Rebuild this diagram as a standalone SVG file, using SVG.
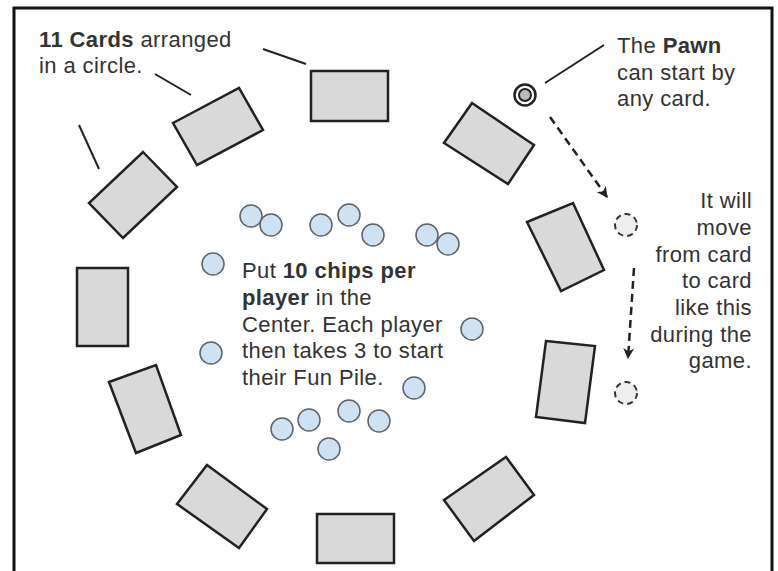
<svg xmlns="http://www.w3.org/2000/svg" width="778" height="571" viewBox="0 0 778 571">
  <defs>
    <marker id="arrow" viewBox="0 0 10 10" refX="9" refY="5" markerWidth="4.4" markerHeight="4.4" orient="auto" markerUnits="strokeWidth">
      <path d="M0,0 L10,5 L0,10 L3,5 z" fill="#222"/>
    </marker>
    <style>
      .card { fill: #d9d9d9; stroke: #222; stroke-width: 2.5; stroke-linejoin: miter; }
      .chip { fill: #cfe2f3; stroke: #5f6468; stroke-width: 1.5; }
      .lead { stroke: #222; stroke-width: 2; fill: none; }
      .move { stroke: #222; stroke-width: 2.5; stroke-dasharray: 8 5; fill: none; }
      .ghost { fill: #eeeeee; stroke: #333; stroke-width: 2; stroke-dasharray: 6 4; }
      .txt { font-family: "Liberation Sans", Arial, sans-serif; font-size: 22px; fill: #333; letter-spacing: 0.4px; }
      .b { font-weight: bold; }
    </style>
  </defs>

  <rect x="0" y="0" width="778" height="571" fill="#ffffff"/>
  <!-- page frame (runs off the bottom edge) -->
  <rect x="14" y="8" width="758" height="620" fill="none" stroke="#111" stroke-width="3"/>

  <!-- the eleven cards around the table -->
  <g id="card-top"><polygon class="card" points="311,71 388,71 388,121 311,121"/></g>
  <g id="card-top-left"><polygon class="card" points="173,123 239,88 263,130 197,165"/></g>
  <g id="card-left-upper"><polygon class="card" points="143,152 177,187 123,238 89,203"/></g>
  <g id="card-left"><polygon class="card" points="77,268 128,268 128,346 77,346"/></g>
  <g id="card-left-lower"><polygon class="card" points="109,382 156,365 181,435 136,453"/></g>
  <g id="card-bottom-left"><polygon class="card" points="207,465 267,509 239,548 177,504"/></g>
  <g id="card-bottom"><polygon class="card" points="317,514 394,514 394,563 317,563"/></g>
  <g id="card-bottom-right"><polygon class="card" points="506,457 534,495 474,541 444,500"/></g>
  <g id="card-right-lower"><polygon class="card" points="546,341 595,346 585,423 536,417"/></g>
  <g id="card-right"><polygon class="card" points="573,203 604,270 561,291 527,222"/></g>
  <g id="card-top-right"><polygon class="card" points="472,103 534,145 508,184 444,143"/></g>

  <!-- chips in the centre pile -->
  <g id="chips">
    <circle class="chip" cx="251" cy="216" r="11"/>
    <circle class="chip" cx="271" cy="225" r="11"/>
    <circle class="chip" cx="321" cy="225" r="11"/>
    <circle class="chip" cx="349" cy="215" r="11"/>
    <circle class="chip" cx="373" cy="235" r="11"/>
    <circle class="chip" cx="427" cy="235" r="11"/>
    <circle class="chip" cx="448" cy="244" r="11"/>
    <circle class="chip" cx="213" cy="264" r="11"/>
    <circle class="chip" cx="211" cy="353" r="11"/>
    <circle class="chip" cx="472" cy="329" r="11"/>
    <circle class="chip" cx="414" cy="388" r="11"/>
    <circle class="chip" cx="282" cy="429" r="11"/>
    <circle class="chip" cx="309" cy="420" r="11"/>
    <circle class="chip" cx="349" cy="411" r="11"/>
    <circle class="chip" cx="379" cy="421" r="11"/>
    <circle class="chip" cx="329" cy="449" r="11"/>
  </g>

  <!-- pawn at its start position -->
  <g id="pawn">
    <circle cx="525" cy="95" r="10.5" fill="#fff" stroke="#222" stroke-width="2.5"/>
    <circle cx="525" cy="95" r="6" fill="#bbb" stroke="#222" stroke-width="2"/>
  </g>
  <!-- later pawn positions -->
  <g id="pawn-step-1"><circle class="ghost" cx="626" cy="225" r="11"/></g>
  <g id="pawn-step-2"><circle class="ghost" cx="626" cy="393" r="11"/></g>

  <!-- labels -->
  <g id="label-cards">
    <text class="txt" x="39" y="47"><tspan class="b">11 Cards</tspan> arranged</text>
    <text class="txt" x="39" y="73">in a circle.</text>
  </g>
  <g id="label-pawn">
    <text class="txt" x="617" y="53">The <tspan class="b">Pawn</tspan></text>
    <text class="txt" x="617" y="80">can start by</text>
    <text class="txt" x="617" y="106">any card.</text>
  </g>
  <g id="label-move" text-anchor="end">
    <text class="txt" x="752" y="208">It will</text>
    <text class="txt" x="752" y="235">move</text>
    <text class="txt" x="752" y="262">from card</text>
    <text class="txt" x="752" y="288">to card</text>
    <text class="txt" x="752" y="315">like this</text>
    <text class="txt" x="752" y="342">during the</text>
    <text class="txt" x="752" y="368">game.</text>
  </g>
  <g id="label-chips">
    <text class="txt" x="242" y="278">Put <tspan class="b">10 chips per</tspan></text>
    <text class="txt" x="242" y="305"><tspan class="b">player</tspan> in the</text>
    <text class="txt" x="242" y="332">Center. Each player</text>
    <text class="txt" x="242" y="358">then takes 3 to start</text>
    <text class="txt" x="242" y="385">their Fun Pile.</text>
  </g>

  <!-- connectors: leader lines and pawn movement -->
  <g id="connectors">
    <line class="lead" x1="155" y1="74" x2="191" y2="95"/>
    <line class="lead" x1="79" y1="125" x2="99" y2="169"/>
    <line class="lead" x1="263" y1="49" x2="306" y2="64"/>
    <line class="lead" x1="545" y1="83" x2="604" y2="45"/>
    <line class="move" x1="550" y1="117" x2="607" y2="197" marker-end="url(#arrow)"/>
    <line class="move" x1="634" y1="268" x2="628" y2="358" marker-end="url(#arrow)"/>
  </g>
</svg>
